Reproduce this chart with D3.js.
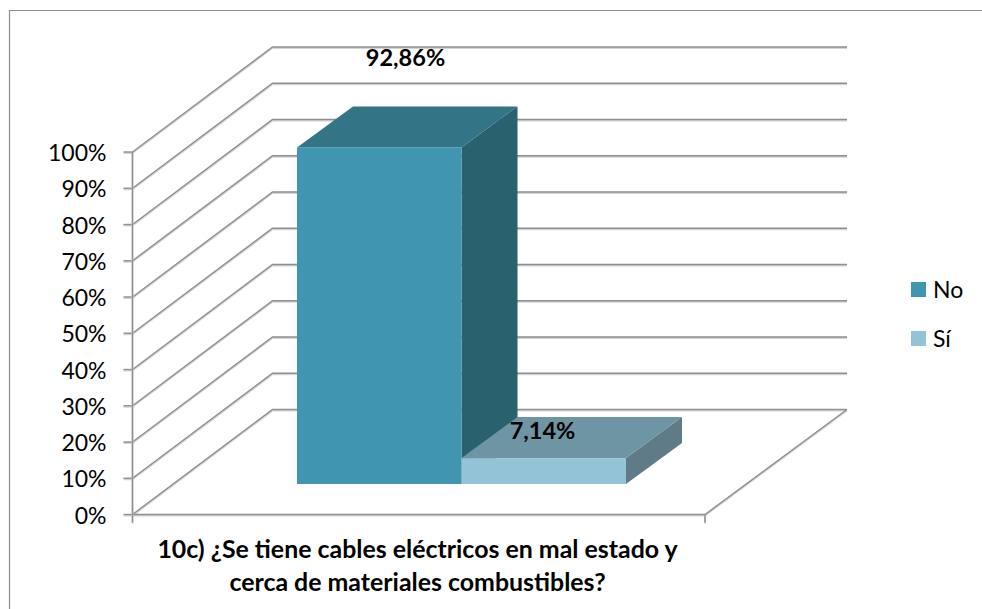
<!DOCTYPE html>
<html><head><meta charset="utf-8">
<script src="https://cdn.jsdelivr.net/npm/d3@7/dist/d3.min.js"></script>
<style>html,body{margin:0;padding:0;background:#fff}svg{display:block}text{font-family:Lato,"Open Sans",sans-serif;fill:#000}</style>
</head><body><div id="c"></div>
<script>
const series = ["No", "Sí"];
const values = [0.9286, 0.0714];
const valueLabels = ["92,86%", "7,14%"];
const frontColors = ["#4096b1", "#93c3d6"];
const topColors = ["#337486", "#6e95a3"];
const sideColors = ["#29616f", "#5f7b87"];
const ticks = [0, .1, .2, .3, .4, .5, .6, .7, .8, .9, 1];
const titleLines = ["10c) ¿Se tiene cables eléctricos en mal estado y", "cerca de materiales combustibles?"];

const W = 982, H = 609;
const svg = d3.select("#c").append("svg").attr("width", W).attr("height", H);
const axisX = 132.5, floorRight = 705, wallRight = 847;
const wallDx = 140, wallDy = -105;
const barDx = 56, barDy = -41;
const barBase = 484;
const y = d3.scaleLinear().domain([0, 1]).range([514.5, 152]);
const barH = v => (y(0) - y(v));
const x = d3.scaleBand().domain(series).range([297, 626]).padding(0);
const grid = "#8f8f8f", shadow = "#d4d4d4";

// frame
const line = d3.line();
svg.append("path").attr("d", line([[9.5, H], [9.5, 10.5], [W, 10.5]])).attr("fill", "none").attr("stroke", "#8c8c8c").attr("stroke-width", 1.2);

// gridlines
const g = svg.append("g").attr("fill", "none");
function stroked(pts, w) {
  g.append("path").attr("d", line(pts.map(p => [p[0], p[1] + 1]))).attr("stroke", shadow).attr("stroke-width", w + .6);
  g.append("path").attr("d", line(pts)).attr("stroke", grid).attr("stroke-width", w);
}
ticks.forEach(t => {
  const yy = y(t);
  stroked([[axisX, yy], [axisX + wallDx, yy + wallDy], [wallRight, yy + wallDy]], 1.4);
  stroked([[axisX - 9, yy], [axisX, yy]], 1.4);
});
stroked([[axisX, y(0)], [floorRight, y(0)], [wallRight, y(0) + wallDy]], 1.4);
stroked([[axisX, y(1)], [axisX, y(0) + 8]], 1.4);
stroked([[floorRight, y(0)], [floorRight, y(0) + 8]], 1.4);

// bars
const bars = svg.append("g");
series.forEach((s, i) => {
  const x0 = x(s), x1 = x0 + x.bandwidth(), top = barBase - barH(values[i]);
  const poly = (pts, c) => bars.append("polygon").attr("points", pts.join(" ")).attr("fill", c);
  poly([[x1, top], [x1 + barDx, top + barDy], [x1 + barDx, barBase + barDy], [x1, barBase]], sideColors[i]);
  poly([[x0, top], [x0 + barDx, top + barDy], [x1 + barDx, top + barDy], [x1, top]], topColors[i]);
  bars.append("rect").attr("x", x0).attr("y", top).attr("width", x.bandwidth()).attr("height", barBase - top).attr("fill", frontColors[i]);
});

// y tick labels
svg.append("g").selectAll("text").data(ticks).join("text")
  .attr("x", 106.5).attr("y", d => y(d) + 9).attr("text-anchor", "end").attr("font-size", 23)
  .text(d => d3.format(".0%")(d));

// value labels
const labelPos = [[405.5, 65.5], [542.5, 438.5]];
svg.append("g").selectAll("text").data(valueLabels).join("text")
  .attr("x", (d, i) => labelPos[i][0]).attr("y", (d, i) => labelPos[i][1])
  .attr("text-anchor", "middle").attr("font-size", 23.5).attr("font-weight", 700).text(d => d);

// title
svg.append("g").selectAll("text").data(titleLines).join("text")
  .attr("x", 417.5).attr("y", (d, i) => 558 + i * 33)
  .attr("text-anchor", "middle").attr("font-size", 24.9).attr("font-weight", 700).text(d => d);

// legend
const leg = svg.append("g").selectAll("g").data(series).join("g").attr("transform", (d, i) => `translate(911,${282 + i * 49})`);
leg.append("rect").attr("width", 15).attr("height", 15).attr("fill", (d, i) => frontColors[i]);
leg.append("text").attr("x", 22).attr("y", 15.5).attr("font-size", 23).text(d => d);
</script></body></html>
